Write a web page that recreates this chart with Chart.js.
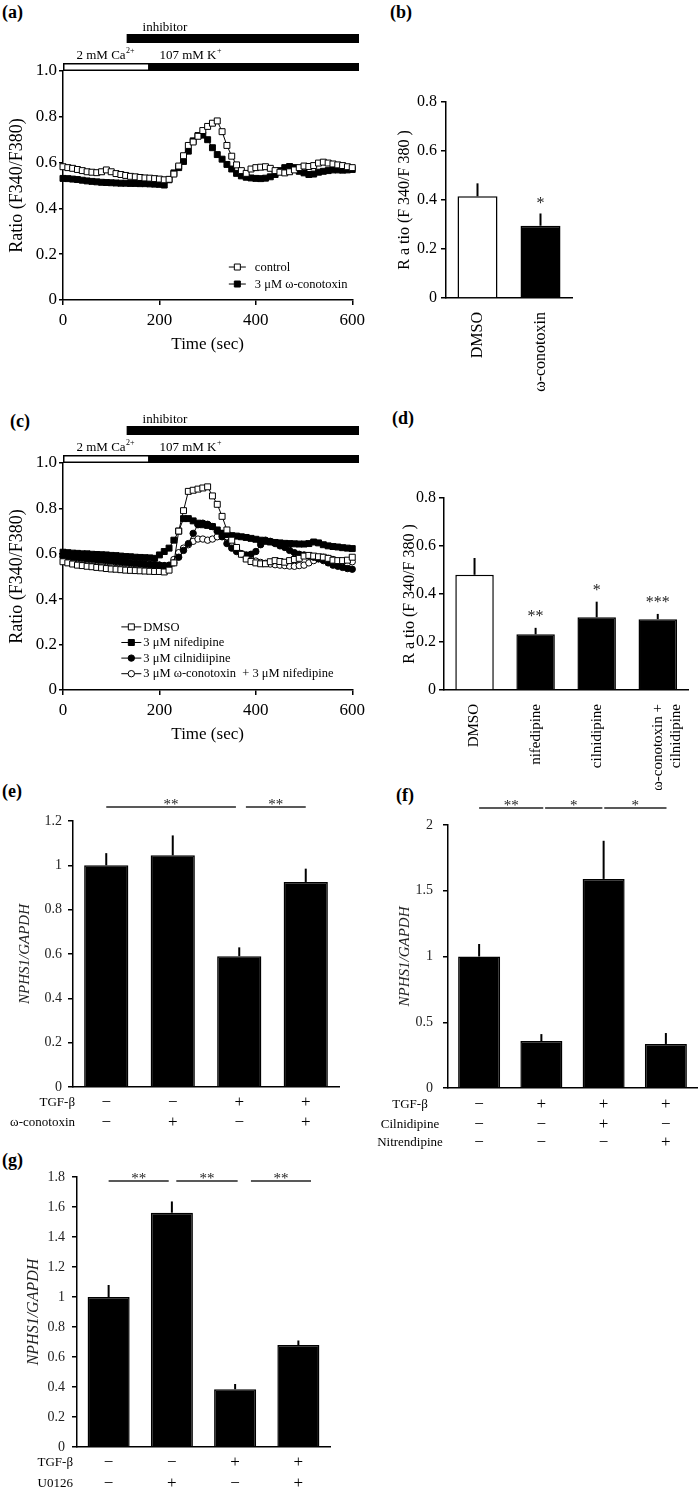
<!DOCTYPE html>
<html>
<head>
<meta charset="utf-8">
<script src="https://cdn.jsdelivr.net/npm/chart.js@4.4.1/dist/chart.umd.min.js"></script>
<style>
    html, body { margin: 0; padding: 0; background: #fff; }
    body { width: 700px; height: 1491px; position: relative; overflow: hidden;
           font-family: "Liberation Serif", "Times New Roman", serif; }
    .panel { position: absolute; }
    .tag { position: absolute; font-weight: bold; font-size: 18px; line-height: 20px; color: #000; }
</style>
</head>
<body>
<div class="tag" style="left:2px;top:2px">(a)</div>
<div class="tag" style="left:390px;top:2px">(b)</div>
<div class="tag" style="left:10px;top:411px">(c)</div>
<div class="tag" style="left:392px;top:408px">(d)</div>
<div class="tag" style="left:2px;top:781px">(e)</div>
<div class="tag" style="left:396px;top:785px">(f)</div>
<div class="tag" style="left:2px;top:1150px">(g)</div>

<div class="panel" style="left:0;top:20px;width:370px;height:340px"><canvas id="chartA"></canvas></div>
<div class="panel" style="left:380px;top:80px;width:320px;height:320px"><canvas id="chartB"></canvas></div>
<div class="panel" style="left:0;top:412px;width:370px;height:338px"><canvas id="chartC"></canvas></div>
<div class="panel" style="left:380px;top:470px;width:320px;height:320px"><canvas id="chartD"></canvas></div>
<div class="panel" style="left:0;top:780px;width:350px;height:360px"><canvas id="chartE"></canvas></div>
<div class="panel" style="left:350px;top:790px;width:350px;height:360px"><canvas id="chartF"></canvas></div>
<div class="panel" style="left:0;top:1150px;width:350px;height:341px"><canvas id="chartG"></canvas></div>

<script>
// ---------- data ----------
const timeSec = [0, 10, 20, 30, 40, 50, 60, 70, 80, 90, 100, 110, 120, 130, 140, 150, 160, 170, 180, 190,
    200, 210, 220, 230, 240, 250, 260, 270, 280, 290, 300, 310, 320, 330, 340, 350, 360, 370, 380, 390,
    400, 410, 420, 430, 440, 450, 460, 470, 480, 490, 500, 510, 520, 530, 540, 550, 560, 570, 580, 590, 600];

// protocol timing (sec)
const inhibitorOn = 132;
const potassiumOn = 178;
const recordEnd = 614;

// (a) traces
const controlA = [0.582, 0.578, 0.575, 0.570, 0.565, 0.560, 0.558, 0.556, 0.560, 0.568,
    0.560, 0.552, 0.548, 0.544, 0.540, 0.538, 0.535, 0.533, 0.532, 0.530,
    0.528, 0.525, 0.527, 0.550, 0.585, 0.630, 0.675, 0.690, 0.715, 0.740,
    0.758, 0.772, 0.782, 0.735, 0.675, 0.628, 0.590, 0.565, 0.553, 0.572,
    0.578, 0.580, 0.582, 0.575, 0.565, 0.558, 0.555, 0.560, 0.568, 0.578,
    0.585, 0.583, 0.587, 0.598, 0.602, 0.598, 0.594, 0.590, 0.587, 0.582, 0.578];
const conotoxinA = [0.531, 0.530, 0.528, 0.526, 0.523, 0.520, 0.518, 0.516, 0.514, 0.513,
    0.512, 0.511, 0.510, 0.510, 0.509, 0.509, 0.508, 0.508, 0.507, 0.506,
    0.505, 0.502, 0.525, 0.555, 0.578, 0.605, 0.650, 0.695, 0.718, 0.720,
    0.700, 0.665, 0.635, 0.615, 0.592, 0.572, 0.553, 0.542, 0.536, 0.533,
    0.531, 0.530, 0.532, 0.538, 0.548, 0.565, 0.578, 0.583, 0.578, 0.562,
    0.555, 0.548, 0.550, 0.558, 0.562, 0.565, 0.568, 0.568, 0.567, 0.568, 0.570];

// (c) traces
const dmsoC = [0.565, 0.560, 0.555, 0.550, 0.548, 0.545, 0.543, 0.540, 0.538, 0.535,
    0.533, 0.532, 0.530, 0.528, 0.527, 0.526, 0.525, 0.524, 0.523, 0.522,
    0.522, 0.520, 0.528, 0.560, 0.700, 0.790, 0.875, 0.880, 0.885, 0.890,
    0.895, 0.855, 0.818, 0.765, 0.705, 0.660, 0.628, 0.598, 0.577, 0.566,
    0.560, 0.556, 0.556, 0.565, 0.570, 0.566, 0.563, 0.570, 0.575, 0.580,
    0.590, 0.593, 0.590, 0.587, 0.585, 0.580, 0.572, 0.570, 0.570, 0.572, 0.585];
const nifedipineC = [0.607, 0.605, 0.603, 0.602, 0.600, 0.600, 0.598, 0.597, 0.596, 0.595,
    0.593, 0.592, 0.590, 0.588, 0.587, 0.585, 0.584, 0.583, 0.582, 0.580,
    0.595, 0.610, 0.625, 0.660, 0.700, 0.755, 0.755, 0.745, 0.735, 0.728,
    0.725, 0.720, 0.705, 0.690, 0.685, 0.680, 0.678, 0.675, 0.672, 0.668,
    0.664, 0.660, 0.655, 0.652, 0.650, 0.648, 0.646, 0.645, 0.644, 0.643,
    0.643, 0.645, 0.652, 0.648, 0.640, 0.635, 0.632, 0.630, 0.627, 0.625, 0.623];
const cilnidipineC = [0.590, 0.588, 0.585, 0.583, 0.580, 0.578, 0.576, 0.574, 0.572, 0.570,
    0.568, 0.566, 0.564, 0.562, 0.560, 0.558, 0.556, 0.555, 0.553, 0.552,
    0.550, 0.548, 0.548, 0.560, 0.585, 0.615, 0.645, 0.690, 0.728, 0.735,
    0.730, 0.720, 0.700, 0.675, 0.645, 0.625, 0.610, 0.600, 0.595, 0.598,
    0.610, 0.640, 0.660, 0.655, 0.645, 0.635, 0.628, 0.615, 0.605, 0.598,
    0.595, 0.590, 0.585, 0.578, 0.570, 0.560, 0.550, 0.545, 0.540, 0.535, 0.532];
const conoNifC = [0.585, 0.583, 0.580, 0.578, 0.575, 0.573, 0.571, 0.569, 0.567, 0.565,
    0.563, 0.561, 0.560, 0.558, 0.556, 0.555, 0.554, 0.552, 0.551, 0.550,
    0.550, 0.548, 0.550, 0.575, 0.605, 0.625, 0.640, 0.655, 0.665, 0.665,
    0.660, 0.665, 0.675, 0.690, 0.675, 0.645, 0.620, 0.600, 0.585, 0.575,
    0.568, 0.562, 0.558, 0.555, 0.552, 0.550, 0.548, 0.546, 0.545, 0.548,
    0.550, 0.560, 0.570, 0.578, 0.585, 0.580, 0.575, 0.565, 0.560, 0.558, 0.565];

// (b)
const catsB = ['DMSO', 'ω-conotoxin'];
const meanB = [0.415, 0.295];
const semB = [0.053, 0.050];
const starsB = ['', '*'];

// (d)
const catsD = ['DMSO', 'nifedipine', 'cilnidipine', ['ω-conotoxin +', 'cilnidipine']];
const meanD = [0.480, 0.232, 0.303, 0.295];
const semD = [0.070, 0.027, 0.065, 0.022];
const starsD = ['', '**', '*', '***'];

// (e)
const meanE = [1.000, 1.045, 0.590, 0.925];
const semE = [0.055, 0.090, 0.040, 0.060];
const tgfE = ['−', '−', '+', '+'];
const conoE = ['−', '+', '−', '+'];
const sigE = [[0, 1.95, '**'], [2.1, 3.0, '**']];
const sigLevelE = 1.263;

// (f)
const meanF = [1.000, 0.357, 1.590, 0.335];
const semF = [0.095, 0.053, 0.290, 0.083];
const tgfF = ['−', '+', '+', '+'];
const cilF = ['−', '−', '+', '−'];
const nitF = ['−', '−', '−', '+'];
const sigF = [[0, 1.03, '**'], [1.06, 1.98, '*'], [2.01, 3.01, '*']];
const sigLevelF = 2.13;

// (g)
const meanG = [1.000, 1.562, 0.385, 0.680];
const semG = [0.080, 0.075, 0.035, 0.030];
const tgfG = ['−', '−', '+', '+'];
const u0126G = ['−', '+', '−', '+'];
const sigG = [[0, 0.95, '**'], [1.07, 2.04, '**'], [2.25, 3.2, '**']];
const sigLevelG = 1.773;

// ---------- helpers ----------
const SERIF = '"Liberation Serif", "Times New Roman", serif';
Chart.defaults.font.family = SERIF;
Chart.defaults.color = '#000';
Chart.defaults.animation = false;

function xy(values) {
    return values.map((v, i) => ({ x: timeSec[i], y: v }));
}

function drawMarker(ctx, style, cx, cy, fill) {
    ctx.fillStyle = fill;
    ctx.strokeStyle = '#000';
    ctx.lineWidth = 1;
    ctx.beginPath();
    if (style === 'rect') {
        ctx.rect(cx - 3, cy - 3, 6, 6);
    } else {
        ctx.arc(cx, cy, 3.2, 0, Math.PI * 2);
    }
    ctx.fill();
    ctx.stroke();
}

function supText(ctx, base, sup, x, y) {
    ctx.font = '13px ' + SERIF;
    ctx.fillText(base, x, y);
    const w = ctx.measureText(base).width;
    ctx.font = '8px ' + SERIF;
    ctx.fillText(sup, x + w + 0.5, y - 5);
}

/**
 * Stimulus bars (inhibitor / Ca2+ / K+) above the trace panels
 */
const protocolBars = {
    id: 'protocolBars',
    afterDraw(chart) {
        const { ctx, chartArea: area, scales: { x } } = chart;
        const px = t => x.getPixelForValue(t);
        ctx.save();
        ctx.fillStyle = '#000';
        ctx.fillRect(px(inhibitorOn), area.top - 37, px(recordEnd) - px(inhibitorOn), 9);
        ctx.fillRect(px(potassiumOn), area.top - 8, px(recordEnd) - px(potassiumOn), 8);
        ctx.fillStyle = '#fff';
        ctx.fillRect(px(0), area.top - 8, px(potassiumOn) - px(0), 8);
        ctx.strokeStyle = '#000';
        ctx.lineWidth = 1.5;
        ctx.strokeRect(px(0) + 0.75, area.top - 7.25, px(potassiumOn) - px(0) - 0.75, 6.5);

        ctx.fillStyle = '#000';
        ctx.textBaseline = 'middle';
        ctx.font = '13px ' + SERIF;
        ctx.fillText('inhibitor', px(165), area.top - 43);
        supText(ctx, '2 mM Ca', '2+', px(28), area.top - 15);
        supText(ctx, '107 mM K', '+', px(200), area.top - 15);
        ctx.restore();
    }
};

function makeTraceLegend(t0, v0, rowGap, lineLen, textGap) {
    return {
        id: 'traceLegend',
        afterDraw(chart) {
            const { ctx, scales: { x, y } } = chart;
            const x0 = x.getPixelForValue(t0);
            const y0 = y.getPixelForValue(v0);
            ctx.save();
            ctx.textBaseline = 'middle';
            chart.data.datasets.forEach((ds, i) => {
                const yy = y0 + i * rowGap;
                ctx.strokeStyle = '#000';
                ctx.lineWidth = 1;
                ctx.beginPath();
                ctx.moveTo(x0, yy);
                ctx.lineTo(x0 + lineLen, yy);
                ctx.stroke();
                drawMarker(ctx, ds.pointStyle, x0 + lineLen / 2, yy, ds.pointBackgroundColor);
                ctx.fillStyle = '#000';
                ctx.font = '12.5px ' + SERIF;
                ctx.fillText(ds.label, x0 + textGap, yy + 0.5);
            });
            ctx.restore();
        }
    };
}

function traceDataset(label, values, style, fill) {
    return {
        label: label,
        data: xy(values),
        borderColor: '#000',
        borderWidth: 1,
        pointStyle: style,
        pointRadius: style === 'rect' ? 4.2 : 3.2,
        pointBackgroundColor: fill,
        pointBorderColor: '#000',
        pointBorderWidth: 1,
        tension: 0,
        clip: false
    };
}

function traceChart(id, datasets, legend) {
    return new Chart(document.getElementById(id), {
        type: 'line',
        data: { datasets: datasets },
        options: {
            responsive: true,
            maintainAspectRatio: false,
            layout: { padding: { top: 51, right: 14, left: 0, bottom: 0 } },
            plugins: { legend: { display: false }, tooltip: { enabled: false } },
            scales: {
                x: {
                    type: 'linear', min: 0, max: 600,
                    ticks: { stepSize: 200, font: { size: 17 }, padding: 5 },
                    grid: { display: true, drawOnChartArea: false, tickLength: 5, color: '#000', lineWidth: 1.5 },
                    border: { display: true, color: '#000', width: 1.5 },
                    title: { display: true, text: 'Time (sec)', font: { size: 17 }, padding: { top: 0, bottom: 5 } },
                    afterFit: s => { s.height = 60; }
                },
                y: {
                    min: 0, max: 1.0,
                    ticks: { stepSize: 0.2, font: { size: 17 }, padding: 2, callback: v => (v === 0 ? '0' : v.toFixed(1)) },
                    grid: { display: true, drawOnChartArea: false, tickLength: 4, color: '#000', lineWidth: 1.5 },
                    border: { display: true, color: '#000', width: 1.5 },
                    title: { display: true, text: 'Ratio (F340/F380)', font: { size: 18 }, padding: { top: 6, bottom: 0 } },
                    afterFit: s => { s.width = 63; }
                }
            }
        },
        plugins: [protocolBars, legend]
    });
}

function makeErrorBars(sems, stars, starGap) {
    return {
        id: 'errorBars',
        afterDatasetsDraw(chart) {
            const { ctx, scales: { y } } = chart;
            const ds = chart.data.datasets[0];
            ctx.save();
            chart.getDatasetMeta(0).data.forEach((bar, i) => {
                const top = y.getPixelForValue(ds.data[i] + sems[i]);
                ctx.strokeStyle = '#000';
                ctx.lineWidth = 2;
                ctx.beginPath();
                ctx.moveTo(bar.x, bar.y);
                ctx.lineTo(bar.x, top);
                ctx.stroke();
                if (stars && stars[i]) {
                    ctx.fillStyle = '#222';
                    ctx.font = '16px ' + SERIF;
                    ctx.textAlign = 'center';
                    ctx.textBaseline = 'alphabetic';
                    ctx.fillText(stars[i], bar.x, top - starGap);
                }
            });
            ctx.restore();
        }
    };
}

function makeSigLines(lines, level) {
    return {
        id: 'sigLines',
        afterDraw(chart) {
            const { ctx, scales: { x, y } } = chart;
            const yy = y.getPixelForValue(level);
            ctx.save();
            ctx.strokeStyle = '#222';
            ctx.fillStyle = '#222';
            ctx.lineWidth = 1.5;
            ctx.font = '15px ' + SERIF;
            ctx.textAlign = 'center';
            ctx.textBaseline = 'alphabetic';
            lines.forEach(([a, b, mark]) => {
                const xa = x.getPixelForValue(a);
                const xb = x.getPixelForValue(b);
                ctx.beginPath();
                ctx.moveTo(xa, yy);
                ctx.lineTo(xb, yy);
                ctx.stroke();
                ctx.fillText(mark, (xa + xb) / 2, yy + 2);
            });
            ctx.restore();
        }
    };
}

// rows: [[label, signs]], offsets below the x axis, label anchor in canvas px
function makeTreatmentRows(rows, offsets, labelX, labelAlign) {
    return {
        id: 'treatmentRows',
        afterDraw(chart) {
            const { ctx, chartArea: area, scales: { x } } = chart;
            ctx.save();
            ctx.fillStyle = '#000';
            ctx.textBaseline = 'middle';
            rows.forEach(([label, signs], r) => {
                const yy = area.bottom + offsets[r];
                ctx.font = '13px ' + SERIF;
                ctx.textAlign = labelAlign;
                ctx.fillText(label, labelX, yy);
                ctx.font = '17px ' + SERIF;
                ctx.textAlign = 'center';
                signs.forEach((s, i) => ctx.fillText(s, x.getPixelForValue(i), yy));
            });
            ctx.restore();
        }
    };
}

function barChart(id, cfg) {
    const fmt = cfg.fixed ? (v => (v === 0 ? '0' : v.toFixed(1))) : (v => String(Number(v.toFixed(2))));
    const plugins = [makeErrorBars(cfg.sems, cfg.stars, cfg.starGap || 6)];
    if (cfg.sig) plugins.push(makeSigLines(cfg.sig, cfg.sigLevel));
    if (cfg.rows) plugins.push(makeTreatmentRows(cfg.rows, cfg.rowOffsets, cfg.rowLabelX, cfg.rowAlign));
    return new Chart(document.getElementById(id), {
        type: 'bar',
        data: {
            labels: cfg.labels,
            datasets: [{
                data: cfg.means,
                backgroundColor: cfg.colors,
                borderColor: '#000',
                borderWidth: 1.5,
                barPercentage: cfg.barPct,
                categoryPercentage: 1
            }]
        },
        options: {
            responsive: true,
            maintainAspectRatio: false,
            layout: { padding: cfg.padding },
            plugins: { legend: { display: false }, tooltip: { enabled: false } },
            scales: {
                x: {
                    ticks: {
                        display: cfg.showLabels,
                        minRotation: 90, maxRotation: 90, autoSkip: false,
                        font: { size: cfg.xFont || 16 }, padding: 6
                    },
                    grid: { display: false },
                    border: { display: true, color: '#000', width: 1.5 },
                    afterFit: s => { s.height = cfg.xHeight; }
                },
                y: {
                    min: 0, max: cfg.yMax,
                    ticks: { stepSize: cfg.yStep, font: { size: cfg.tickFont }, color: cfg.tickColor || '#000',
                             padding: cfg.tickPad, callback: fmt },
                    grid: { display: true, drawOnChartArea: false, tickLength: 5, color: '#000', lineWidth: 1.5 },
                    border: { display: true, color: '#000', width: 1.5 },
                    title: { display: true, text: cfg.yTitle, color: cfg.tickColor || '#000',
                             font: { size: cfg.titleFont, style: cfg.italic ? 'italic' : 'normal' },
                             padding: { top: cfg.titlePad, bottom: 0 } },
                    afterFit: s => { s.width = cfg.yWidth; }
                }
            }
        },
        plugins: plugins
    });
}

// ---------- build panels ----------
traceChart('chartA', [
    traceDataset('control', controlA, 'rect', '#fff'),
    traceDataset('3 μM ω-conotoxin', conotoxinA, 'rect', '#000')
], makeTraceLegend(344, 0.144, 17, 17, 26));

traceChart('chartC', [
    traceDataset('DMSO', dmsoC, 'rect', '#fff'),
    traceDataset('3 μM nifedipine', nifedipineC, 'rect', '#000'),
    traceDataset('3 μM cilnidiipine', cilnidipineC, 'circle', '#000'),
    traceDataset('3 μM ω-conotoxin  + 3 μM nifedipine', conoNifC, 'circle', '#fff')
], makeTraceLegend(121, 0.278, 15.6, 20, 22));

barChart('chartB', {
    labels: catsB, means: meanB, sems: semB, stars: starsB, starGap: 5,
    colors: ['#fff', '#000'], barPct: 0.635, fixed: true, showLabels: true, xFont: 16,
    yMax: 0.8, yStep: 0.2, tickFont: 16, tickPad: 4, yTitle: 'R a tio (F 340/F 380 )', titleFont: 16, titlePad: 15,
    yWidth: 66, xHeight: 102, padding: { top: 22, right: 128, left: 0, bottom: 0 }
});

barChart('chartD', {
    labels: catsD, means: meanD, sems: semD, stars: starsD, starGap: 7,
    colors: ['#fff', '#000', '#000', '#000'], barPct: 0.63, fixed: true, showLabels: true, xFont: 15,
    yMax: 0.8, yStep: 0.2, tickFont: 16, tickPad: 3, yTitle: 'R a tio (F 340/F 380 )', titleFont: 16, titlePad: 20,
    yWidth: 64, xHeight: 100, padding: { top: 28, right: 2, left: 0, bottom: 0 }
});

barChart('chartE', {
    labels: ['1', '2', '3', '4'], means: meanE, sems: semE,
    colors: '#000', barPct: 0.665, showLabels: false,
    yMax: 1.2, yStep: 0.2, tickFont: 14, tickColor: '#222', tickPad: 6, yTitle: 'NPHS1/GAPDH', titleFont: 15, italic: true, titlePad: 16,
    yWidth: 73, xHeight: 53, padding: { top: 41, right: 11, left: 0, bottom: 0 },
    sig: sigE, sigLevel: sigLevelE,
    rows: [['TGF-β', tgfE], ['ω-conotoxin', conoE]], rowOffsets: [16, 36], rowLabelX: 75, rowAlign: 'right'
});

barChart('chartF', {
    labels: ['1', '2', '3', '4'], means: meanF, sems: semF,
    colors: '#000', barPct: 0.675, showLabels: false,
    yMax: 2, yStep: 0.5, tickFont: 14, tickColor: '#222', tickPad: 10, yTitle: 'NPHS1/GAPDH', titleFont: 15, italic: true, titlePad: 46,
    yWidth: 98, xHeight: 62, padding: { top: 35, right: 3, left: 0, bottom: 0 },
    sig: sigF, sigLevel: sigLevelF,
    rows: [['TGF-β', tgfF], ['Cilnidipine', cilF], ['Nitrendipine', nitF]], rowOffsets: [17, 37, 55], rowLabelX: 60, rowAlign: 'center'
});

barChart('chartG', {
    labels: ['1', '2', '3', '4'], means: meanG, sems: semG,
    colors: '#000', barPct: 0.665, showLabels: false,
    yMax: 1.8, yStep: 0.2, tickFont: 14, tickColor: '#222', tickPad: 7, yTitle: 'NPHS1/GAPDH', titleFont: 16, italic: true, titlePad: 24,
    yWidth: 77, xHeight: 44, padding: { top: 27, right: 20, left: 0, bottom: 0 },
    sig: sigG, sigLevel: sigLevelG,
    rows: [['TGF-β', tgfG], ['U0126', u0126G]], rowOffsets: [16, 37], rowLabelX: 73, rowAlign: 'right'
});
</script>
</body>
</html>
